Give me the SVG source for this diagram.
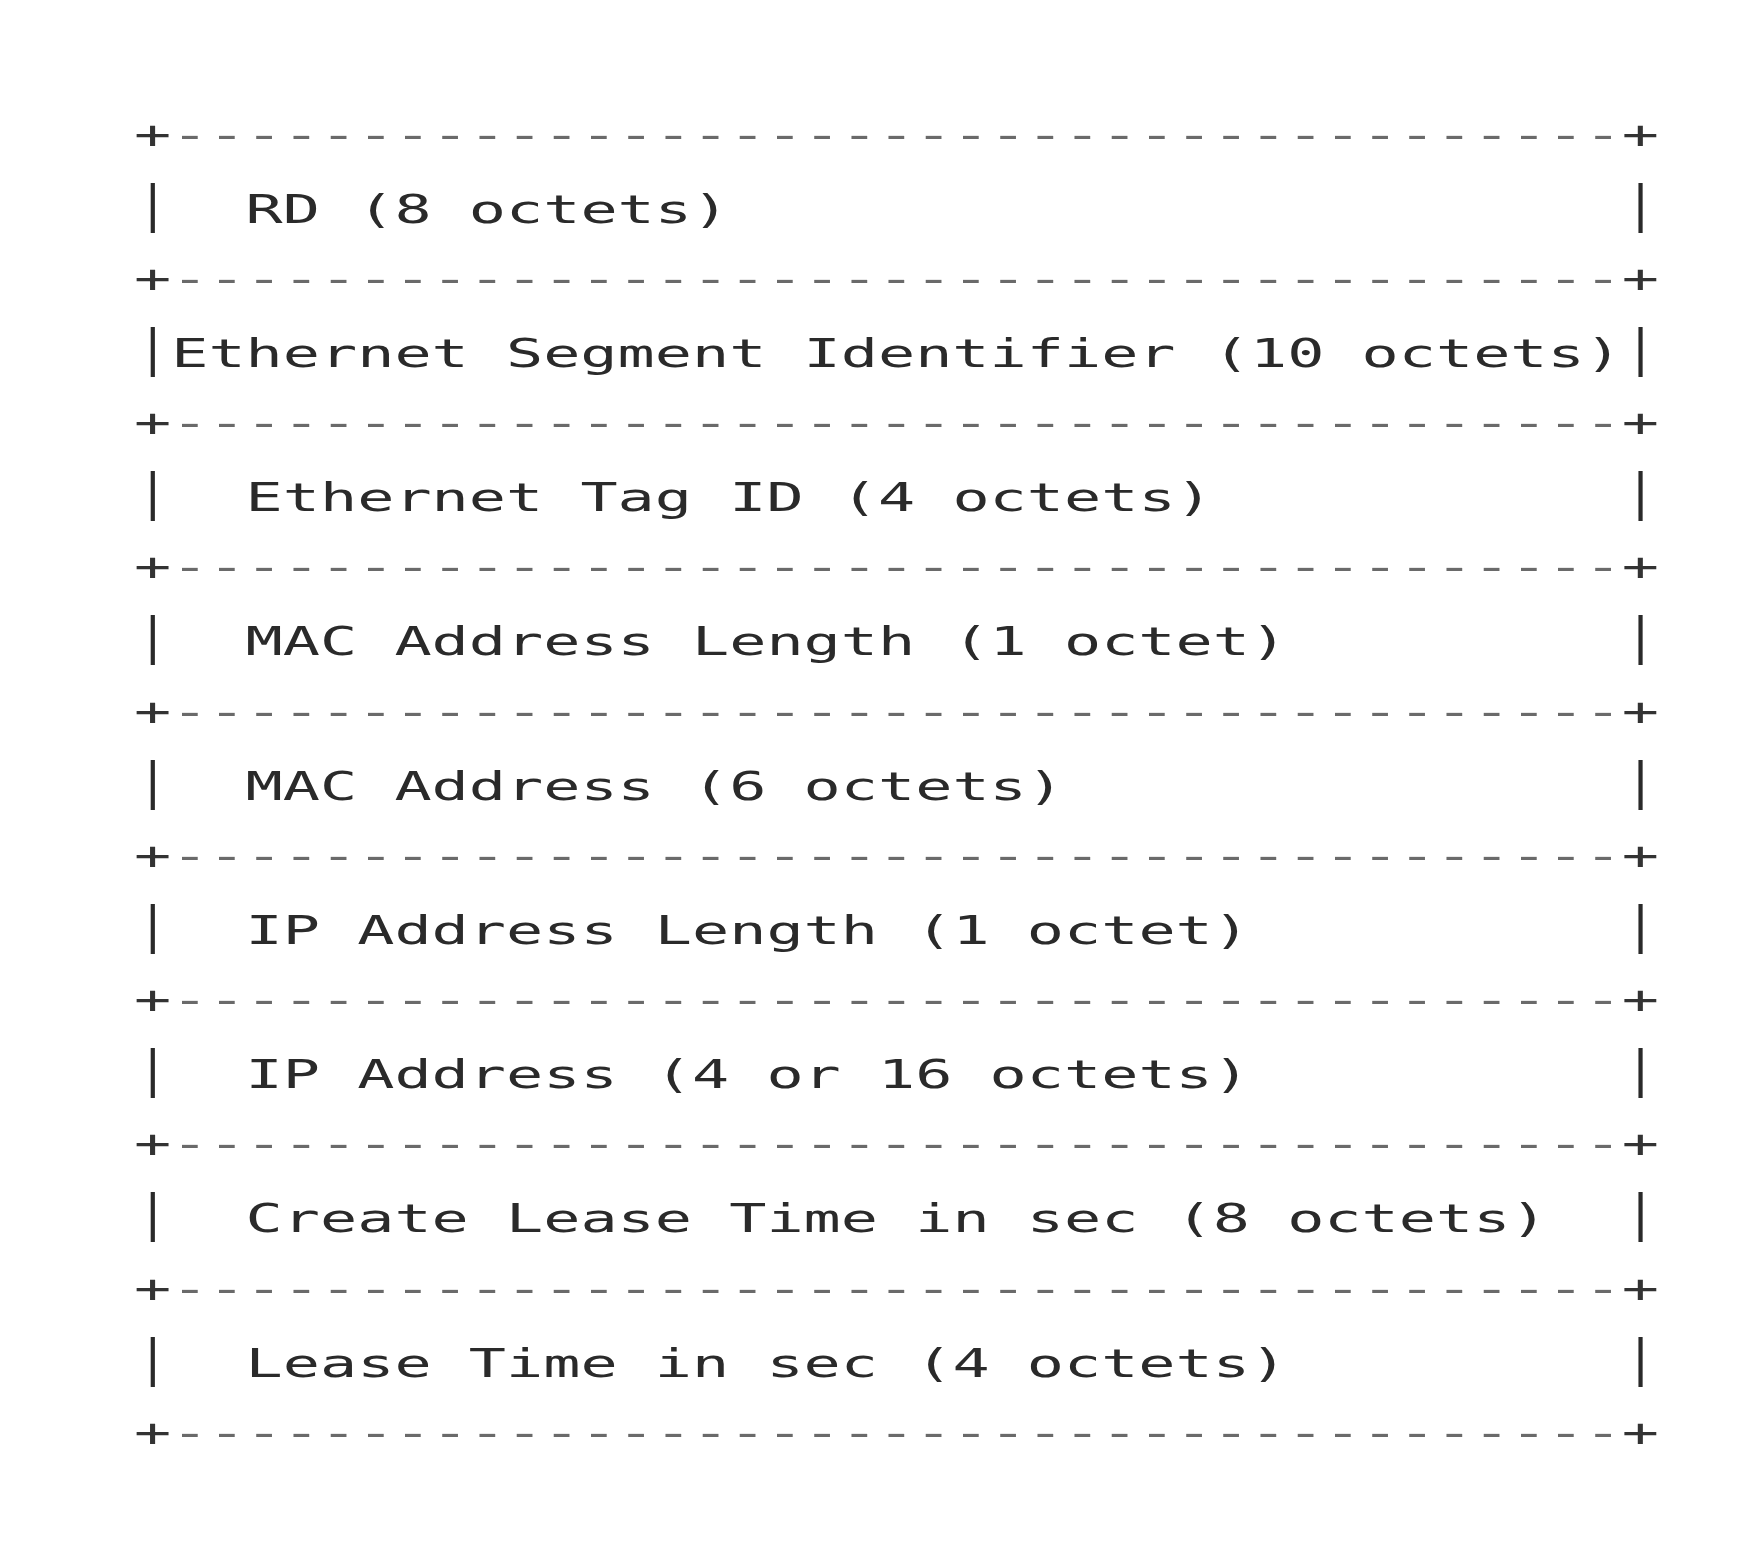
<svg xmlns="http://www.w3.org/2000/svg" width="1738" height="1542" viewBox="0 0 1738 1542">
<style>
.t{font-family:"DejaVu Sans Mono","Liberation Mono",monospace;font-size:39px;fill:#2a2a2a}
.b{font-family:"DejaVu Sans Mono","Liberation Mono",monospace;font-size:39px;fill:#6a6a6a}
.b .p{fill:#333333}
.v{font-family:"DejaVu Sans Mono","Liberation Mono",monospace;font-size:50px;fill:#2a2a2a;text-anchor:middle}
</style>
<rect width="1738" height="1542" fill="#ffffff"/>
<g id="borders">
<text class="b" x="134" y="148" textLength="1525" lengthAdjust="spacingAndGlyphs"><tspan class="p">+</tspan>---------------------------------------<tspan class="p">+</tspan></text>
<text class="b" x="134" y="292" textLength="1525" lengthAdjust="spacingAndGlyphs"><tspan class="p">+</tspan>---------------------------------------<tspan class="p">+</tspan></text>
<text class="b" x="134" y="436" textLength="1525" lengthAdjust="spacingAndGlyphs"><tspan class="p">+</tspan>---------------------------------------<tspan class="p">+</tspan></text>
<text class="b" x="134" y="580" textLength="1525" lengthAdjust="spacingAndGlyphs"><tspan class="p">+</tspan>---------------------------------------<tspan class="p">+</tspan></text>
<text class="b" x="134" y="725" textLength="1525" lengthAdjust="spacingAndGlyphs"><tspan class="p">+</tspan>---------------------------------------<tspan class="p">+</tspan></text>
<text class="b" x="134" y="869" textLength="1525" lengthAdjust="spacingAndGlyphs"><tspan class="p">+</tspan>---------------------------------------<tspan class="p">+</tspan></text>
<text class="b" x="134" y="1013" textLength="1525" lengthAdjust="spacingAndGlyphs"><tspan class="p">+</tspan>---------------------------------------<tspan class="p">+</tspan></text>
<text class="b" x="134" y="1157" textLength="1525" lengthAdjust="spacingAndGlyphs"><tspan class="p">+</tspan>---------------------------------------<tspan class="p">+</tspan></text>
<text class="b" x="134" y="1302" textLength="1525" lengthAdjust="spacingAndGlyphs"><tspan class="p">+</tspan>---------------------------------------<tspan class="p">+</tspan></text>
<text class="b" x="134" y="1446" textLength="1525" lengthAdjust="spacingAndGlyphs"><tspan class="p">+</tspan>---------------------------------------<tspan class="p">+</tspan></text>
</g>
<g id="row-rd">
<text class="v" x="152.7" y="221">|</text>
<text class="t" x="245.6" y="223" textLength="483.6" lengthAdjust="spacingAndGlyphs">RD (8 octets)</text>
<text class="v" x="1640.5" y="221">|</text>
</g>
<g id="row-esi">
<text class="v" x="152.7" y="365">|</text>
<text class="t" x="171.2" y="367" textLength="1450.8" lengthAdjust="spacingAndGlyphs">Ethernet Segment Identifier (10 octets)</text>
<text class="v" x="1640.5" y="365">|</text>
</g>
<g id="row-tag">
<text class="v" x="152.7" y="509">|</text>
<text class="t" x="245.6" y="511" textLength="967.2" lengthAdjust="spacingAndGlyphs">Ethernet Tag ID (4 octets)</text>
<text class="v" x="1640.5" y="509">|</text>
</g>
<g id="row-maclen">
<text class="v" x="152.7" y="653">|</text>
<text class="t" x="245.6" y="655" textLength="1041.6" lengthAdjust="spacingAndGlyphs">MAC Address Length (1 octet)</text>
<text class="v" x="1640.5" y="653">|</text>
</g>
<g id="row-mac">
<text class="v" x="152.7" y="798">|</text>
<text class="t" x="245.6" y="800" textLength="818.4" lengthAdjust="spacingAndGlyphs">MAC Address (6 octets)</text>
<text class="v" x="1640.5" y="798">|</text>
</g>
<g id="row-iplen">
<text class="v" x="152.7" y="942">|</text>
<text class="t" x="245.6" y="944" textLength="1004.4" lengthAdjust="spacingAndGlyphs">IP Address Length (1 octet)</text>
<text class="v" x="1640.5" y="942">|</text>
</g>
<g id="row-ip">
<text class="v" x="152.7" y="1086">|</text>
<text class="t" x="245.6" y="1088" textLength="1004.4" lengthAdjust="spacingAndGlyphs">IP Address (4 or 16 octets)</text>
<text class="v" x="1640.5" y="1086">|</text>
</g>
<g id="row-create">
<text class="v" x="152.7" y="1230">|</text>
<text class="t" x="245.6" y="1232" textLength="1302" lengthAdjust="spacingAndGlyphs">Create Lease Time in sec (8 octets)</text>
<text class="v" x="1640.5" y="1230">|</text>
</g>
<g id="row-lease">
<text class="v" x="152.7" y="1375">|</text>
<text class="t" x="245.6" y="1377" textLength="1041.6" lengthAdjust="spacingAndGlyphs">Lease Time in sec (4 octets)</text>
<text class="v" x="1640.5" y="1375">|</text>
</g>
</svg>
